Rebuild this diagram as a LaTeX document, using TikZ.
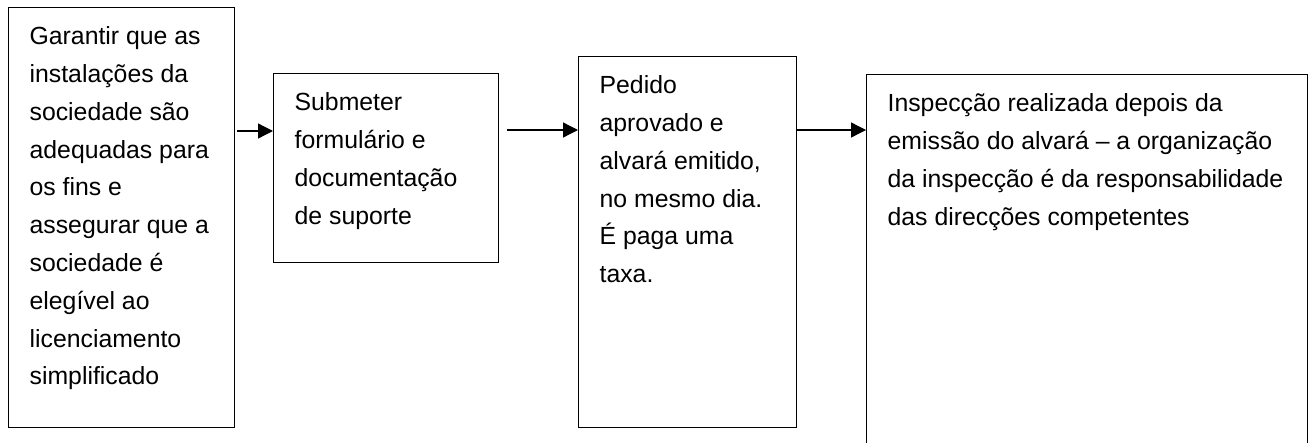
\documentclass[tikz,border=0pt]{standalone}
\usepackage{fontspec}
\setmainfont{Liberation Sans}
\usepackage{tikz}
\usetikzlibrary{arrows.meta}

\newcommand{\textocaixa}[3]{\parbox[c][#2pt][t]{#1pt}{\raggedright\rule{0pt}{37pt}#3}}

\tikzset{
  etapa/.style={draw, line width=1.3pt, anchor=north west, inner xsep=21pt, inner ysep=0pt,
    font=\fontsize{24.8}{37.8}\selectfont},
  seta/.style={line width=1.3pt, -{Triangle[length=15pt,width=15pt]}}
}

\begin{document}
\begin{tikzpicture}[x=1pt,y=-1pt]
        \useasboundingbox (0,0) rectangle (1313,442);
        \node[etapa] (garantir) at (8,7) {\textocaixa{184}{420}{Garantir que as\\ instalações da\\ sociedade são\\ adequadas para\\ os fins e\\ assegurar que a\\ sociedade é\\ elegível ao\\ licenciamento\\ simplificado}};
        \node[etapa] (submeter) at (273,73) {\textocaixa{183}{189}{Submeter\\ formulário e\\ documentação\\ de suporte}};
        \node[etapa] (pedido) at (578,56) {\textocaixa{176}{371}{Pedido\\ aprovado e\\ alvará emitido,\\ no mesmo dia.\\ É paga uma\\ taxa.}};
        \node[etapa] (inspeccao) at (866,74) {\textocaixa{399}{420}{Inspecção realizada depois da\\ emissão do alvará -- a organização\\ da inspecção é da responsabilidade\\ das direcções competentes}};
        \draw[seta, shorten <=2pt] (garantir.east |- 0,131) -- (submeter.west |- 0,131);
        \draw[seta, shorten <=8pt] (submeter.east |- 0,130) -- (pedido.west |- 0,130);
        \draw[seta] (pedido.east |- 0,130) -- (inspeccao.west |- 0,130);
      \end{tikzpicture}
\end{document}
